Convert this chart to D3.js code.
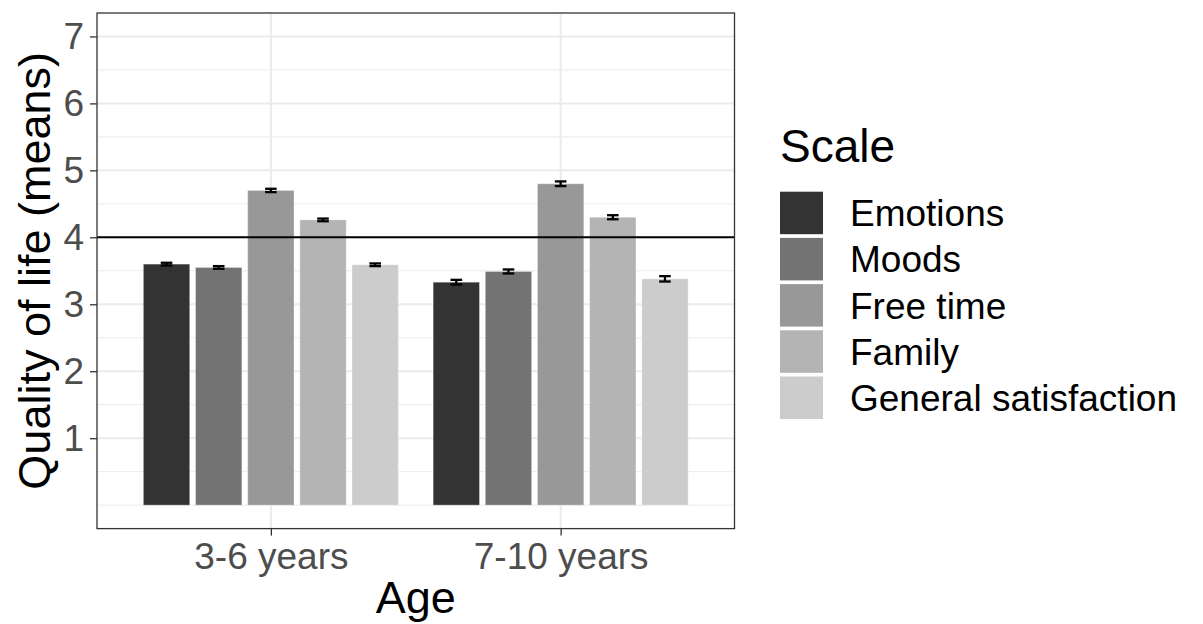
<!DOCTYPE html>
<html>
<head>
<meta charset="utf-8">
<script src="https://cdn.jsdelivr.net/npm/d3@7"></script>
<style>
  html, body { margin: 0; padding: 0; background: #ffffff; }
  svg { display: block; font-family: "Liberation Sans", Arial, sans-serif; }
</style>
</head>
<body>
<svg id="chart" width="1203" height="624"></svg>
<script>
// Age groups on the x axis
const ageGroups = ["3-6 years", "7-10 years"];
// Quality-of-life scales (fill legend)
const scales = ["Emotions", "Moods", "Free time", "Family", "General satisfaction"];
// Mean scores per scale, one array per age group
const means36 = [3.60, 3.55, 4.70, 4.26, 3.59];
const means710 = [3.33, 3.49, 4.80, 4.30, 3.38];
// Standard errors
const se36 = [0.02, 0.02, 0.025, 0.02, 0.02];
const se710 = [0.035, 0.03, 0.035, 0.03, 0.04];
// Y axis breaks and reference level
const yTicks = [1, 2, 3, 4, 5, 6, 7];
const referenceLevel = 4;
const greyFills = ["#333333", "#737373", "#989898", "#B4B4B4", "#CCCCCC"];

const rows = [];
ageGroups.forEach((age, gi) => {
  const m = gi === 0 ? means36 : means710;
  const s = gi === 0 ? se36 : se710;
  scales.forEach((sc, si) => rows.push({ age, scale: sc, mean: m[si], se: s[si] }));
});

const svg = d3.select("#chart");
const panel = { left: 97, right: 734.5, top: 13, bottom: 528.6 };

const x = d3.scalePoint().domain(ageGroups).range([panel.left, panel.right]).padding(0.6);
const step = x.step();
const dodge = d3.scaleBand().domain(scales)
  .range([-0.45 * step, 0.45 * step])
  .paddingInner(0.02 / 0.18).paddingOuter(0.01 / 0.18);
const y = d3.scaleLinear().domain([-0.35, 7.35]).range([panel.bottom, panel.top]);
const fill = d3.scaleOrdinal().domain(scales).range(greyFills);

// Panel background and grid
svg.append("rect")
  .attr("x", panel.left).attr("y", panel.top)
  .attr("width", panel.right - panel.left).attr("height", panel.bottom - panel.top)
  .attr("fill", "#ffffff");

const minorY = d3.range(0, 7.01, 0.5).filter(v => !yTicks.includes(v));
svg.append("g").selectAll("line").data(minorY).join("line")
  .attr("x1", panel.left).attr("x2", panel.right)
  .attr("y1", d => y(d)).attr("y2", d => y(d))
  .attr("stroke", "#EBEBEB").attr("stroke-width", 1);
svg.append("g").selectAll("line").data(yTicks).join("line")
  .attr("x1", panel.left).attr("x2", panel.right)
  .attr("y1", d => y(d)).attr("y2", d => y(d))
  .attr("stroke", "#EBEBEB").attr("stroke-width", 2);
svg.append("g").selectAll("line").data(ageGroups).join("line")
  .attr("x1", d => x(d)).attr("x2", d => x(d))
  .attr("y1", panel.top).attr("y2", panel.bottom)
  .attr("stroke", "#EBEBEB").attr("stroke-width", 2);

// Bars
svg.append("g").selectAll("rect").data(rows).join("rect")
  .attr("x", d => x(d.age) + dodge(d.scale))
  .attr("width", dodge.bandwidth())
  .attr("y", d => y(d.mean))
  .attr("height", d => y(0) - y(d.mean))
  .attr("fill", d => fill(d.scale))
  .attr("stroke", "rgba(255,255,255,0.35)")
  .attr("stroke-width", 1);

// Error bars
const capHalf = 0.02 * step;
const eb = svg.append("g").attr("stroke", "#000000").attr("stroke-width", 2.3).attr("fill", "none");
rows.forEach(d => {
  const cx = x(d.age) + dodge(d.scale) + dodge.bandwidth() / 2;
  const yLo = y(d.mean - d.se), yHi = y(d.mean + d.se);
  eb.append("line").attr("x1", cx).attr("x2", cx).attr("y1", yLo).attr("y2", yHi);
  eb.append("line").attr("x1", cx - capHalf).attr("x2", cx + capHalf).attr("y1", yLo).attr("y2", yLo);
  eb.append("line").attr("x1", cx - capHalf).attr("x2", cx + capHalf).attr("y1", yHi).attr("y2", yHi);
});

// Reference line
svg.append("line")
  .attr("x1", panel.left).attr("x2", panel.right)
  .attr("y1", y(referenceLevel)).attr("y2", y(referenceLevel))
  .attr("stroke", "#000000").attr("stroke-width", 2);

// Panel border
svg.append("rect")
  .attr("x", panel.left).attr("y", panel.top)
  .attr("width", panel.right - panel.left).attr("height", panel.bottom - panel.top)
  .attr("fill", "none").attr("stroke", "#333333").attr("stroke-width", 1.3);

// Axes
const yAxis = svg.append("g")
  .attr("transform", `translate(${panel.left},0)`)
  .call(d3.axisLeft(y).tickValues(yTicks).tickFormat(d3.format("d"))
    .tickSizeInner(7).tickSizeOuter(0).tickPadding(6));
const xAxis = svg.append("g")
  .attr("transform", `translate(0,${panel.bottom})`)
  .call(d3.axisBottom(x).tickSizeInner(7).tickSizeOuter(0).tickPadding(7));
[yAxis, xAxis].forEach(g => {
  g.select(".domain").remove();
  g.selectAll(".tick line").attr("stroke", "#333333").attr("stroke-width", 1.3);
  g.selectAll(".tick text").attr("fill", "#4D4D4D")
    .style("font-size", "37px").style("font-family", "'Liberation Sans', Arial, sans-serif");
});

// Axis titles
svg.append("text")
  .attr("x", (panel.left + panel.right) / 2).attr("y", 613)
  .attr("text-anchor", "middle").attr("fill", "#000000")
  .style("font-size", "45px").text("Age");
svg.append("text")
  .attr("transform", `translate(50,${(panel.top + panel.bottom) / 2}) rotate(-90)`)
  .attr("text-anchor", "middle").attr("fill", "#000000")
  .style("font-size", "45px").text("Quality of life (means)");

// Legend
const legend = svg.append("g");
legend.append("text").attr("x", 780).attr("y", 162)
  .attr("fill", "#000000").style("font-size", "46px").text("Scale");
const keyTop = 191.7, keyPitch = 46.2, keySize = 43;
const item = legend.selectAll("g.item").data(scales).join("g").attr("class", "item");
item.append("rect")
  .attr("x", 780).attr("y", (d, i) => keyTop + i * keyPitch)
  .attr("width", keySize).attr("height", keySize - 0.5)
  .attr("fill", d => fill(d));
item.append("text")
  .attr("x", 850).attr("y", (d, i) => keyTop + i * keyPitch + keySize / 2 + 13)
  .attr("fill", "#000000").style("font-size", "37px").text(d => d);
</script>
</body>
</html>
